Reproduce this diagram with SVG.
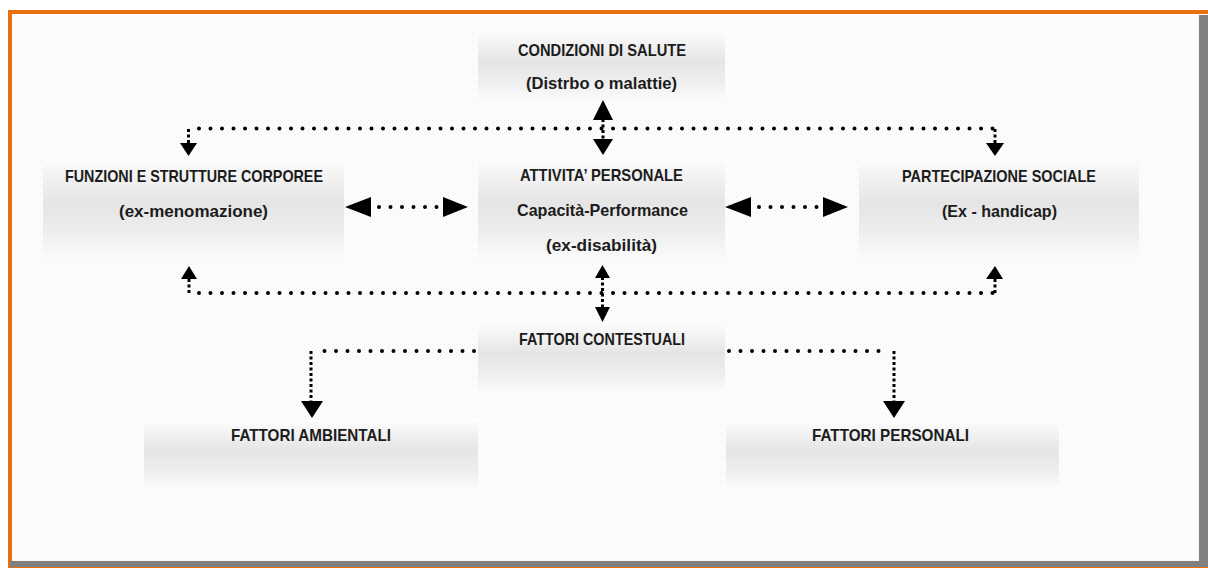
<svg xmlns="http://www.w3.org/2000/svg" width="1208" height="568" viewBox="0 0 1208 568">
<style>
.box{fill:url(#g)}
.t{font-family:"Liberation Sans",Arial,sans-serif;font-weight:bold;font-size:17px;fill:#1c1c1c;text-anchor:middle}
.dot{fill:none;stroke:#000;stroke-width:4;stroke-linecap:round;stroke-dasharray:0 11.5}
.dash{fill:none;stroke:#000;stroke-width:3;stroke-dasharray:3 2.5}
.head{fill:#000}
</style>
<defs>
<linearGradient id="g" x1="0" y1="0" x2="0" y2="1">
<stop offset="0" stop-color="#fdfdfd"/>
<stop offset="0.2" stop-color="#f2f2f2"/>
<stop offset="0.45" stop-color="#e5e5e5"/>
<stop offset="0.75" stop-color="#eeeeee"/>
<stop offset="1" stop-color="#fbfbfb"/>
</linearGradient>
<pattern id="bg" width="4" height="4" patternUnits="userSpaceOnUse">
<rect width="4" height="4" fill="#fdfdfd"/>
<rect x="0" y="0" width="1" height="1" fill="#ededed"/>
<rect x="2" y="2" width="1" height="1" fill="#ededed"/>
</pattern>
</defs>
<rect width="1208" height="568" fill="#ffffff"/>
<rect x="10" y="12" width="1190" height="550" fill="url(#bg)"/>
<g id="frame">
<rect x="8" y="10" width="1200" height="4" fill="#e8700f"/>
<rect x="8" y="10" width="4" height="558" fill="#e8700f"/>
<rect x="1199" y="15" width="9" height="553" fill="#808080"/>
<rect x="10" y="561" width="1198" height="6" fill="#808080"/>
<rect x="10" y="567" width="1198" height="1" fill="#e8700f"/>
</g>
<g id="n-condizioni">
<rect class="box" x="478" y="30" width="247" height="70"/>
<text class="t" x="602" y="56" textLength="168" lengthAdjust="spacingAndGlyphs">CONDIZIONI DI SALUTE</text>
<text class="t" x="601.5" y="89" textLength="151" lengthAdjust="spacingAndGlyphs">(Distrbo o malattie)</text>
</g>
<g id="n-funzioni">
<rect class="box" x="43" y="157" width="301" height="103"/>
<text class="t" x="194" y="182" textLength="258" lengthAdjust="spacingAndGlyphs">FUNZIONI E STRUTTURE CORPOREE</text>
<text class="t" x="193.5" y="217" textLength="149" lengthAdjust="spacingAndGlyphs">(ex-menomazione)</text>
</g>
<g id="n-attivita">
<rect class="box" x="478" y="157" width="247" height="103"/>
<text class="t" x="601.5" y="181" textLength="163" lengthAdjust="spacingAndGlyphs">ATTIVITA’ PERSONALE</text>
<text class="t" x="602.5" y="216" textLength="171" lengthAdjust="spacingAndGlyphs">Capacità-Performance</text>
<text class="t" x="601.5" y="251" textLength="111" lengthAdjust="spacingAndGlyphs">(ex-disabilità)</text>
</g>
<g id="n-partecipazione">
<rect class="box" x="859" y="157" width="280" height="101"/>
<text class="t" x="999" y="182" textLength="194" lengthAdjust="spacingAndGlyphs">PARTECIPAZIONE SOCIALE</text>
<text class="t" x="999.5" y="217" textLength="115" lengthAdjust="spacingAndGlyphs">(Ex - handicap)</text>
</g>
<g id="n-contestuali">
<rect class="box" x="478" y="322" width="247" height="70"/>
<text class="t" x="602" y="345" textLength="166" lengthAdjust="spacingAndGlyphs">FATTORI CONTESTUALI</text>
</g>
<g id="n-ambientali">
<rect class="box" x="144" y="420" width="334" height="68"/>
<text class="t" x="311" y="441" textLength="160" lengthAdjust="spacingAndGlyphs">FATTORI AMBIENTALI</text>
</g>
<g id="n-personali">
<rect class="box" x="726" y="420" width="333" height="68"/>
<text class="t" x="890.5" y="441" textLength="157" lengthAdjust="spacingAndGlyphs">FATTORI PERSONALI</text>
</g>
<g id="connectors">
<path class="dot" d="M199 128.5 H995"/>
<path class="dash" d="M188.5 129 V143"/>
<polygon class="head" points="180,143 197,143 188.5,156"/>
<path class="dash" d="M995 129 V143"/>
<polygon class="head" points="986,143 1004,143 995,156"/>
<path class="dash" d="M603 119 V140"/>
<polygon class="head" points="593,120 613,120 603,100"/>
<polygon class="head" points="593,139 613,139 603,155"/>
<polygon class="head" points="345,207 371,197 371,217"/>
<path class="dot" d="M379 207 H440"/>
<polygon class="head" points="443,197 443,217 468,207"/>
<polygon class="head" points="725,207 751,197 751,217"/>
<path class="dot" d="M759 207 H820"/>
<polygon class="head" points="823,197 823,217 848,207"/>
<path class="dot" d="M199 293 H995"/>
<path class="dash" d="M189 279 V293"/>
<polygon class="head" points="181,279 197,279 189,266"/>
<path class="dash" d="M995 279 V293"/>
<polygon class="head" points="986,279 1003,279 995,266"/>
<path class="dash" d="M602.5 277 V308"/>
<polygon class="head" points="595,278 610,278 602.5,265"/>
<polygon class="head" points="595,307 610,307 602.5,322"/>
<path class="dot" d="M474 351 H319"/>
<path class="dash" d="M311 351 V401"/>
<polygon class="head" points="301,401 323,401 312,418"/>
<path class="dot" d="M729 351 H886"/>
<path class="dash" d="M894 351 V401"/>
<polygon class="head" points="883,401 905,401 894,418"/>
</g>
</svg>
